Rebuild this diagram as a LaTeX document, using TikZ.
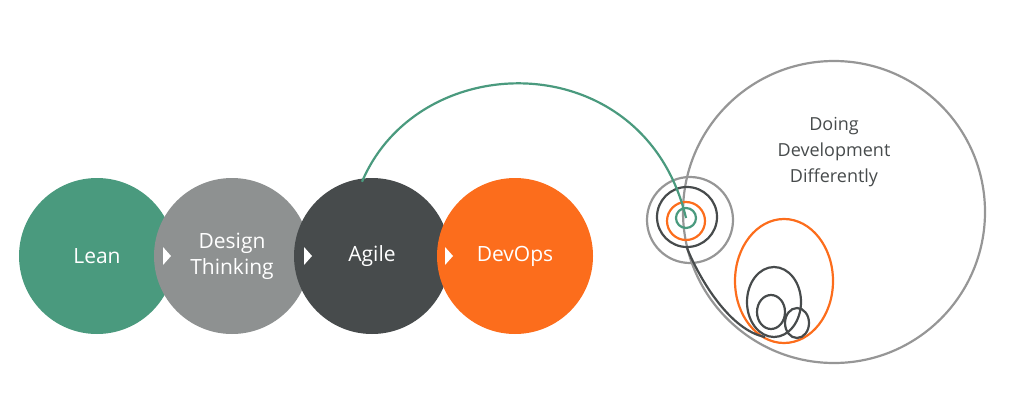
\documentclass[tikz,border=0pt]{standalone}
\usepackage{fontspec}
\setmainfont{Open Sans}
\usetikzlibrary{positioning}
\definecolor{leangreen}{HTML}{4A9A7E}
\definecolor{designgray}{HTML}{8E9191}
\definecolor{agiledark}{HTML}{474B4C}
\definecolor{devorange}{HTML}{FC6D1C}
\definecolor{ringgray}{HTML}{969696}

\begin{document}
\begin{tikzpicture}[x=1pt, y=-1pt]
\tikzset{phase/.style={circle, minimum size=156pt, inner sep=0pt, text=white, align=center, font=\fontsize{21}{26}\selectfont},
         ring/.style={line width=2.2pt},
         marker/.style={fill=white, draw=none}}
\useasboundingbox (0,0) rectangle (1024,415);

\node (lean)   [phase, fill=leangreen]  at (97,256)  {Lean};
\node (design) [phase, fill=designgray] at (232,256) {Design\\Thinking};
\node (agile)  [phase, fill=agiledark]  at (372,256) {Agile};
\node (devops) [phase, fill=devorange]  at (515,256) {DevOps};

\foreach \x in {163,304,445}
  \fill[marker] (\x,247) -- (\x+8,256) -- (\x,265) -- cycle;

% rings on the right
\node (big)   [circle, draw=ringgray, ring, minimum size=302pt, inner sep=0pt] at (834,212) {};
\node (label) [text=agiledark, align=center, font=\fontsize{18}{26}\selectfont] at (834,152) {Doing\\Development\\Differently};
\node (outer) [circle, draw=ringgray, ring, minimum size=86pt, inner sep=0pt] at (690,220) {};
\node (dark)  [circle, draw=agiledark, ring, minimum size=60pt, inner sep=0pt] at (687,217) {};
\node (orng)  [circle, draw=devorange, ring, minimum size=38pt, inner sep=0pt] at (686,221) {};
\node (core)  [circle, draw=leangreen, ring, minimum size=20pt, inner sep=0pt] at (686,218) {};

\draw[devorange, ring] (784,281) ellipse [x radius=49, y radius=62];
\draw[agiledark, ring] (774,302) ellipse [x radius=27, y radius=35];
\draw[agiledark, ring] (771,312) ellipse [x radius=14, y radius=17];
\draw[agiledark, ring] (797,323) ellipse [x radius=12, y radius=15];

\draw[leangreen, ring] (agile.north) ++(-10,4) .. controls (420,45) and (645,45) .. (core.center);
\draw[agiledark, ring] (dark.south) .. controls (700,280) and (730,330) .. (765,337);
\end{tikzpicture}
\end{document}
